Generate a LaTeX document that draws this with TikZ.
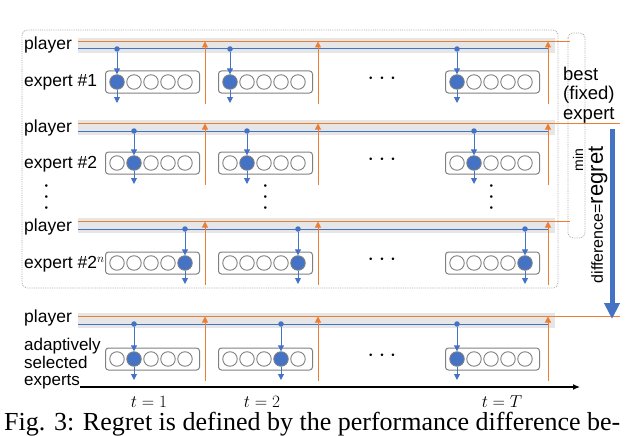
\documentclass[tikz,border=0pt]{standalone}
\usepackage{fontspec}
\setmainfont{Liberation Serif}
\setsansfont{Liberation Sans}
\usetikzlibrary{arrows.meta}
\definecolor{bl}{RGB}{68,114,196}
\definecolor{org}{RGB}{237,125,49}
\definecolor{bandc}{RGB}{230,230,230}
\definecolor{boxc}{RGB}{128,128,128}
\begin{document}
\begin{tikzpicture}[x=1pt,y=-1pt,
  lbl/.style={font=\sffamily\fontsize{17.5}{19}\selectfont,inner sep=0pt},
  circ/.style={circle,draw=boxc,line width=0.9pt,minimum size=14.5pt,inner sep=0pt},
  sel/.style={circ,fill=bl},
  ebox/.style={draw=boxc,line width=1pt,rounded corners=3pt,minimum width=94pt,minimum height=22pt},
  barr/.style={bl,line width=1pt,-{Triangle[length=6pt,width=6pt]}},
  oarr/.style={org,line width=1pt,-{Triangle[length=6pt,width=6pt]}},
  dotc/.style={circle,fill=bl,inner sep=0pt,minimum size=5.5pt},
  dots/.style={font=\fontsize{24}{24}\selectfont},
  frame/.style={draw=gray!70,densely dotted,line width=0.8pt,rounded corners=5pt}]
\useasboundingbox (0,0) rectangle (640,436);
\draw[frame] (22,30) rectangle (558,288);
\draw[frame] (568,33) rectangle (585,238);
\newcommand\myrow[7]{%
  \fill[bandc] (78,#2) rectangle (555,#2+15);
  \coordinate (o#1L) at (78,#2+3.5);
  \coordinate (o#1R) at (#7,#2+3.5);
  \draw[org,line width=1pt] (o#1L) -- (o#1R);
  \coordinate (b#1L) at (78,#2+11);
  \coordinate (b#1R) at (548,#2+11);
  \draw[bl,line width=1pt] (b#1L) -- (b#1R);
  \foreach \bx/\k/\s in {105/a/#4,218/b/#5,445/c/#6}{%
    \node[ebox,anchor=west] (bx#1\k) at (\bx,#3) {};
    \foreach \i in {0,...,4}{%
      \ifnum\i=\s \node[sel] (c#1\k\i) at (\bx+12+17*\i,#3) {};
      \else \node[circ] (c#1\k\i) at (\bx+12+17*\i,#3) {};\fi}
    \node[dotc] (d#1\k) at (\bx+12+17*\s,#2+11) {};
    \coordinate (e#1\k) at (\bx+12+17*\s,#3+21);
    \draw[barr] (d#1\k) -- (c#1\k\s.north);
    \draw[barr] (c#1\k\s.south) -- (e#1\k);
  }
  \foreach \ox/\k in {205/a,318/b,548/c}{%
    \coordinate (v#1\k) at (\ox,#3+22);
    \coordinate (w#1\k) at (\ox,#2+3.5);
    \draw[oarr] (v#1\k) -- (w#1\k);}
  \node[dots] (hd#1) at (382,#3-3) {$\cdots$};
}
\myrow{1}{38}{82}{0}{0}{0}{570}
\myrow{2}{120}{163}{1}{1}{1}{620}
\myrow{3}{218}{263}{4}{4}{4}{570}
\myrow{4}{313}{359}{1}{3}{0}{620}
\node[lbl,anchor=west] (p1) at (24,45) {player};
\node[lbl,anchor=west] (x1) at (24,82) {expert \#1};
\node[lbl,anchor=west] (p2) at (24,128) {player};
\node[lbl,anchor=west] (x2) at (24,164) {expert \#2};
\node[lbl,anchor=west] (p3) at (24,227) {player};
\node[lbl,anchor=west] (x3) at (24,264) {expert \#2$^n$};
\node[lbl,anchor=west] (p4) at (24,318) {player};
\node[lbl,align=left,anchor=west,font=\sffamily\fontsize{17}{17.5}\selectfont] (ad) at (24,364) {adaptively\\selected\\experts};
\foreach \x/\n in {47/l,266/m,492/r}{
  \node[dots,rotate=90] (vd\n) at (\x,197) {$\cdots$};}
\node[lbl,align=left,anchor=west,font=\sffamily\fontsize{18.5}{19.5}\selectfont] (best) at (563,95) {best\\(fixed)\\expert};
\node[lbl,rotate=90,font=\sffamily\fontsize{14}{14}\selectfont] (mn) at (578,160) {min};
\node[lbl,rotate=90,font=\sffamily\fontsize{16}{16}\selectfont] (df) at (598,215) {difference=\fontsize{22}{22}\selectfont regret};
\coordinate (ra) at (612,129);
\coordinate (rb) at (612,319);
\draw[bl,line width=5pt,-{Triangle[length=16pt,width=15pt]}] (ra) -- (rb);
\coordinate (ax1) at (80,387);
\coordinate (ax2) at (580,387);
\draw[line width=1.2pt,-{Latex[length=7pt,width=6pt]}] (ax1) -- (ax2);
\node[font=\fontsize{18}{18}\selectfont] (t1) at (149,402) {$t=1$};
\node[font=\fontsize{18}{18}\selectfont] (t2) at (262,402) {$t=2$};
\node[font=\fontsize{18}{18}\selectfont] (tT) at (502,402) {$t=T$};
\node[anchor=west,inner sep=0pt,font=\fontsize{26}{26}\selectfont] (cap) at (4,424) {Fig. 3: Regret is defined by the performance difference be-};
\end{tikzpicture}
\end{document}
